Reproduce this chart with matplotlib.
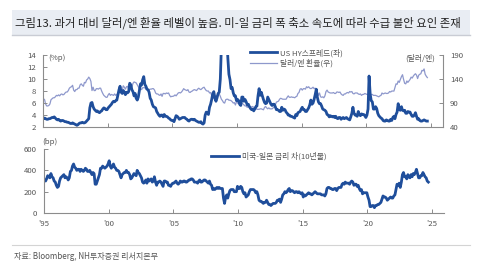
import numpy as np
import pandas as pd
import matplotlib
matplotlib.use("Agg")
import matplotlib.pyplot as plt
from matplotlib.patches import Rectangle
from matplotlib.lines import Line2D

plt.rcParams['font.family'] = ['Noto Sans CJK KR', 'DejaVu Sans']

# monthly values, Jan 1995 - Sep 2024
hy_spread = [
    3.4, 3.5, 3.4, 3.3, 3.3, 3.4, 3.4, 3.5, 3.6, 3.6, 3.7, 3.5,
    3.3, 3.2, 3.3, 3.1, 3.0, 3.1, 3.1, 3.0, 2.9, 2.9, 2.8, 2.8,
    2.7, 2.6, 2.6, 2.7, 2.6, 2.5, 2.4, 2.3, 2.4, 2.6, 2.7, 2.7,
    2.8, 2.7, 2.7, 2.8, 3.0, 3.2, 3.4, 5.2, 6.0, 6.1, 5.4, 5.0,
    4.8, 4.6, 4.7, 4.5, 4.4, 4.6, 4.7, 5.0, 5.2, 5.1, 4.9, 4.9,
    5.2, 5.4, 5.6, 5.8, 6.1, 6.3, 6.2, 6.4, 6.5, 7.3, 8.2, 8.8,
    7.8, 7.6, 8.1, 7.8, 7.4, 7.8, 7.7, 7.9, 9.3, 9.0, 8.2, 7.9,
    7.2, 7.6, 6.8, 6.5, 7.0, 8.1, 9.2, 9.0, 9.9, 10.4, 9.1, 8.8,
    8.3, 8.2, 7.8, 6.8, 6.5, 5.8, 5.4, 5.3, 5.2, 4.6, 4.3, 4.0,
    3.8, 4.0, 4.0, 3.7, 4.1, 3.8, 3.8, 3.7, 3.5, 3.4, 3.2, 3.1,
    3.1, 2.9, 3.4, 3.9, 3.8, 3.6, 3.3, 3.4, 3.5, 3.6, 3.6, 3.6,
    3.4, 3.3, 3.1, 3.0, 3.2, 3.3, 3.3, 3.2, 3.3, 3.1, 3.0, 2.9,
    2.8, 2.8, 2.9, 2.6, 2.5, 2.7, 4.0, 4.5, 4.3, 4.1, 5.3, 5.8,
    6.6, 7.6, 7.9, 6.8, 6.3, 6.9, 7.6, 7.8, 10.0, 15.5, 19.5, 18.0,
    16.5, 17.0, 17.5, 13.5, 10.8, 9.9, 8.4, 8.6, 7.7, 7.2, 7.2, 6.4,
    6.6, 6.4, 5.8, 5.6, 7.0, 7.0, 6.3, 6.6, 6.2, 5.7, 5.8, 5.4,
    5.1, 4.9, 5.0, 4.7, 5.0, 5.4, 5.5, 7.2, 8.4, 7.3, 7.8, 7.2,
    6.6, 6.1, 5.9, 6.0, 7.0, 6.6, 6.2, 5.8, 5.6, 5.8, 5.8, 5.4,
    4.9, 4.9, 4.8, 4.6, 4.6, 5.3, 4.8, 5.0, 4.9, 4.5, 4.3, 4.0,
    4.0, 3.8, 3.8, 3.7, 3.6, 3.5, 4.1, 3.9, 4.4, 4.5, 4.6, 5.0,
    5.3, 4.9, 4.9, 4.6, 4.6, 4.9, 5.2, 5.7, 6.5, 5.8, 6.0, 6.6,
    7.4, 8.3, 7.0, 6.2, 5.9, 5.9, 5.5, 5.0, 4.9, 4.8, 4.6, 4.1,
    4.0, 3.7, 3.9, 3.8, 3.7, 3.8, 3.6, 3.8, 3.5, 3.4, 3.6, 3.6,
    3.3, 3.5, 3.6, 3.4, 3.5, 3.6, 3.4, 3.3, 3.2, 3.7, 4.3, 5.3,
    4.3, 4.0, 4.0, 3.8, 4.6, 4.1, 3.9, 4.2, 4.1, 4.1, 3.9, 3.6,
    4.0, 5.0, 10.5, 7.5, 6.4, 6.2, 5.0, 5.0, 5.4, 5.1, 4.3, 3.9,
    3.7, 3.5, 3.4, 3.1, 3.0, 3.0, 3.2, 3.1, 3.0, 3.0, 3.3, 3.1,
    3.6, 3.8, 3.4, 4.1, 4.5, 5.9, 4.9, 4.8, 5.4, 4.8, 4.7, 4.8,
    4.3, 4.3, 4.6, 4.5, 4.5, 4.1, 3.8, 3.8, 4.0, 4.4, 3.8, 3.3,
    3.4, 3.1, 3.0, 3.0, 3.1, 3.2, 3.1, 3.0, 3.0,
]

usdjpy = [
    99, 97, 88, 84, 84, 85, 88, 97, 99, 101, 101, 103,
    106, 105, 107, 105, 108, 109, 107, 108, 111, 113, 113, 116,
    121, 123, 124, 127, 117, 114, 118, 118, 121, 121, 128, 130,
    127, 125, 133, 132, 138, 140, 144, 141, 135, 116, 123, 116,
    116, 120, 120, 119, 121, 121, 115, 110, 106, 104, 102, 102,
    107, 110, 106, 108, 107, 106, 109, 106, 108, 109, 111, 114,
    117, 117, 126, 123, 119, 124, 125, 119, 119, 122, 123, 131,
    134, 133, 132, 128, 124, 119, 120, 118, 122, 122, 122, 119,
    120, 117, 118, 119, 119, 120, 120, 117, 111, 109, 109, 107,
    106, 109, 104, 110, 110, 109, 111, 110, 111, 106, 103, 104,
    104, 105, 107, 105, 108, 111, 112, 111, 113, 116, 120, 118,
    117, 116, 118, 113, 112, 114, 115, 117, 118, 117, 116, 119,
    121, 119, 118, 120, 122, 123, 119, 116, 115, 115, 111, 112,
    106, 104, 100, 104, 105, 106, 108, 109, 104, 98, 95, 91,
    90, 97, 98, 98, 96, 96, 95, 93, 90, 91, 86, 93,
    90, 89, 93, 94, 91, 88, 86, 84, 84, 81, 84, 81,
    82, 82, 83, 81, 81, 80, 77, 77, 77, 78, 78, 77,
    76, 81, 83, 80, 78, 80, 78, 78, 78, 80, 82, 86,
    92, 93, 94, 98, 100, 99, 98, 98, 98, 98, 102, 105,
    102, 102, 103, 102, 102, 101, 103, 104, 110, 112, 119, 120,
    117, 120, 120, 119, 124, 122, 124, 121, 120, 121, 123, 120,
    121, 113, 113, 106, 111, 103, 102, 103, 101, 105, 114, 117,
    113, 112, 111, 111, 111, 112, 110, 110, 113, 113, 112, 113,
    109, 107, 106, 109, 109, 111, 112, 111, 114, 113, 114, 110,
    109, 111, 111, 111, 109, 108, 109, 106, 108, 108, 110, 109,
    108, 108, 108, 107, 108, 108, 106, 106, 106, 105, 104, 103,
    105, 106, 111, 109, 110, 111, 110, 110, 111, 114, 113, 115,
    115, 115, 122, 130, 129, 136, 133, 139, 145, 149, 139, 131,
    130, 136, 133, 136, 139, 144, 142, 146, 149, 151, 148, 141,
    148, 150, 151, 158, 157, 161, 150, 146, 143,
]

us_jp_spread = [
    310, 300, 320, 350, 340, 330, 370, 340, 330, 300, 290, 260,
    240, 250, 300, 330, 340, 350, 360, 330, 340, 330, 310, 330,
    390, 400, 440, 460, 430, 420, 400, 410, 410, 390, 410, 400,
    390, 400, 420, 410, 390, 390, 400, 380, 360, 380, 370, 270,
    270, 300, 330, 360, 420, 420, 440, 430, 420, 430, 440, 460,
    490, 440, 420, 440, 460, 430, 420, 400, 400, 390, 360, 330,
    360, 370, 380, 380, 400, 380, 380, 360, 320, 330, 350, 370,
    360, 350, 400, 380, 370, 350, 330, 290, 280, 290, 310, 280,
    320, 300, 310, 320, 290, 300, 340, 290, 260, 290, 290, 300,
    290, 270, 250, 300, 300, 290, 290, 260, 260, 250, 270, 280,
    280, 290, 300, 280, 270, 280, 300, 290, 290, 300, 300, 290,
    290, 300, 310, 310, 320, 320, 310, 290, 290, 290, 280, 300,
    310, 290, 290, 300, 310, 310, 300, 290, 280, 300, 270, 260,
    220, 230, 220, 230, 240, 230, 240, 230, 230, 230, 140, 90,
    150, 170, 140, 180, 210, 220, 220, 220, 200, 200, 200, 250,
    230, 230, 250, 240, 200, 180, 190, 150, 160, 170, 200, 220,
    220, 220, 220, 210, 190, 200, 170, 120, 110, 110, 100, 90,
    100, 100, 120, 100, 80, 80, 70, 80, 90, 90, 90, 100,
    120, 120, 130, 100, 130, 170, 180, 200, 190, 200, 220, 230,
    200, 210, 210, 200, 190, 200, 200, 190, 200, 190, 180, 190,
    150, 170, 160, 170, 180, 190, 180, 180, 170, 180, 190, 200,
    190, 180, 180, 180, 180, 170, 170, 170, 160, 180, 230, 240,
    240, 230, 230, 220, 220, 230, 230, 210, 230, 240, 240, 240,
    270, 280, 270, 290, 280, 280, 280, 270, 290, 300, 290, 260,
    270, 270, 250, 260, 230, 210, 220, 180, 190, 190, 190, 190,
    150, 120, 60, 60, 70, 70, 50, 70, 70, 80, 80, 90,
    100, 130, 160, 150, 150, 140, 120, 130, 140, 150, 140, 140,
    160, 170, 220, 270, 260, 280, 240, 290, 360, 380, 340, 340,
    320, 360, 340, 330, 360, 340, 370, 360, 380, 410, 370, 330,
    330, 350, 350, 380, 360, 340, 330, 300, 290,
]

year_ticks = [1995, 2000, 2005, 2010, 2015, 2020, 2025]
year_labels = ["'95", "'00", "'05", "'10", "'15", "'20", "'25"]

dates = pd.date_range("1995-01-01", periods=len(hy_spread), freq="MS") + pd.Timedelta(days=14)

dark_blue = "#1f4e9b"
light_blue = "#8e98cc"
spine_col = "#8c8c8c"
text_col = "#555555"
fs = 5.6

fig = plt.figure(figsize=(5.0, 2.71), dpi=100)

# title bar
fig.patches.append(Rectangle((0.024, 0.871), 0.916, 0.092, transform=fig.transFigure,
                             facecolor="#e9edf3", edgecolor="none", zorder=0))
fig.lines.append(Line2D([0.024, 0.94], [0.871, 0.871], transform=fig.transFigure,
                        color="#c9ccd4", lw=1.0))
fig.text(0.030, 0.917, "그림13. 과거 대비 달러/엔 환율 레벨이 높음. 미-일 금리 폭 축소 속도에 따라 수급 불안 요인 존재",
         fontsize=8.2, color="#222222", va="center", ha="left")

xmin = pd.Timestamp("1995-01-01")
xmax = pd.Timestamp("2025-12-01")
tick_dates = [pd.Timestamp(f"{y}-01-01") for y in year_ticks]


def style_axis(ax, right=False):
    ax.spines["top"].set_visible(False)
    if not right:
        ax.spines["right"].set_visible(False)
    for s in ["left", "bottom", "right"]:
        ax.spines[s].set_color(spine_col)
        ax.spines[s].set_linewidth(0.8)
    ax.tick_params(direction="in", length=3, width=0.7, color=spine_col,
                   labelsize=fs, labelcolor=text_col, pad=5)


# top panel
ax1 = fig.add_axes([0.086, 0.531, 0.800, 0.266])
ax2 = ax1.twinx()
style_axis(ax1)
style_axis(ax2, right=True)
ax2.spines["left"].set_visible(False)
ax2.spines["bottom"].set_visible(False)

l2, = ax2.plot(dates, usdjpy, color=light_blue, lw=0.9, label="달러/엔 환율(우)")
l1, = ax1.plot(dates, hy_spread, color=dark_blue, lw=2.0, label="US HY스프레드(좌)")
ax1.set_zorder(ax2.get_zorder() + 1)
ax1.patch.set_visible(False)

ax1.set_ylim(2, 14)
ax1.set_yticks([2, 4, 6, 8, 10, 12, 14])
ax2.set_ylim(40, 190)
ax2.set_yticks([40, 90, 140, 190])
ax1.set_xlim(xmin, xmax)
ax1.set_xticks(tick_dates)
ax1.set_xticklabels([])

ax1.text(0.012, 0.96, "(%p)", transform=ax1.transAxes, fontsize=fs, color=text_col,
         ha="left", va="center")
ax1.text(0.98, 0.96, "(달러/엔)", transform=ax1.transAxes, fontsize=fs, color=text_col,
         ha="right", va="center")
ax1.legend([l1, l2], [l1.get_label(), l2.get_label()], loc="upper left",
           bbox_to_anchor=(0.51, 1.13), frameon=False, fontsize=fs, handlelength=3.4,
           handletextpad=0.4, labelspacing=0.3, borderaxespad=0, labelcolor=text_col)

# bottom panel
ax3 = fig.add_axes([0.088, 0.214, 0.800, 0.236])
style_axis(ax3)
l3, = ax3.plot(dates, us_jp_spread, color=dark_blue, lw=2.0, label="미국-일본 금리 차(10년물)")
ax3.set_ylim(0, 600)
ax3.set_yticks([0, 200, 400, 600])
ax3.set_xlim(xmin, xmax)
ax3.set_xticks(tick_dates)
ax3.set_xticklabels(year_labels)
ax3.text(-0.005, 1.11, "(bp)", transform=ax3.transAxes, fontsize=fs, color=text_col,
         ha="left", va="center")
ax3.legend(loc="upper left", bbox_to_anchor=(0.41, 1.0), frameon=False, fontsize=fs,
           handlelength=3.6, handletextpad=0.4, borderaxespad=0, labelcolor=text_col)

# source line
fig.lines.append(Line2D([0.024, 0.94], [0.096, 0.096], transform=fig.transFigure,
                        color="#d4d4d4", lw=0.8))
fig.text(0.028, 0.055, "자료: Bloomberg, NH투자증권 리서치본부", fontsize=5.8, color=text_col,
         ha="left", va="center")

fig.savefig("out.png", dpi=100, facecolor="white")
